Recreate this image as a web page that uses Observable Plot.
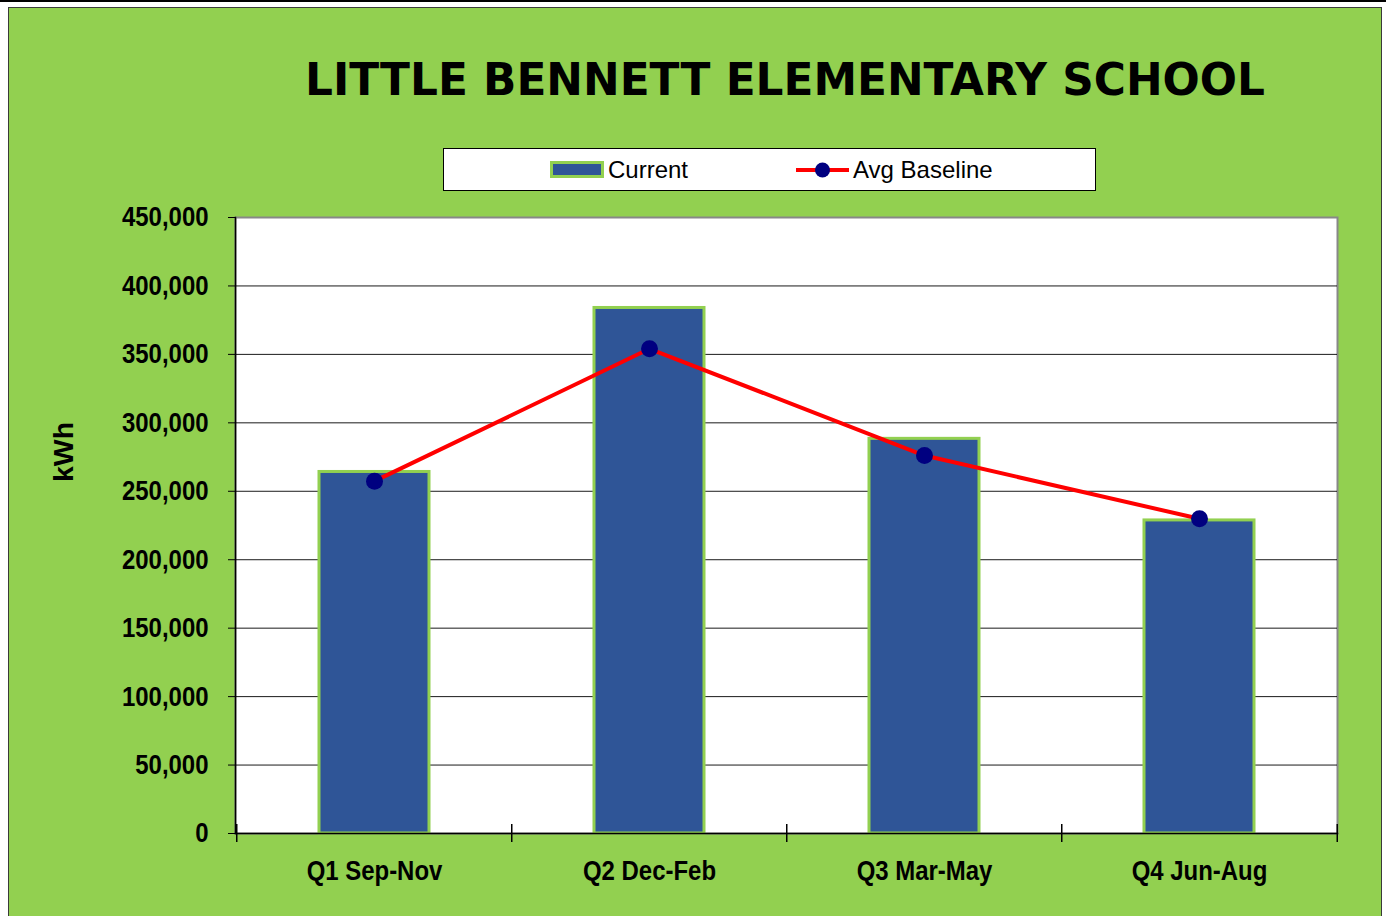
<!DOCTYPE html>
<html><head><meta charset="utf-8">
<script src="https://cdn.jsdelivr.net/npm/d3@7"></script>
<script src="https://cdn.jsdelivr.net/npm/@observablehq/plot@0.6"></script>
<style>
body{margin:0;background:#fff;width:1386px;height:916px;overflow:hidden;position:relative;font-family:"Liberation Sans",Arial,sans-serif}
#topline{position:absolute;left:0;top:0;width:1386px;height:2px;background:#000}
#panel{position:absolute;left:8px;top:7px;width:1374px;height:915px;background:#92D050;border:1px solid #3a3a3a;box-sizing:border-box}
#chart{position:absolute;left:0;top:0}
#legend{position:absolute;left:443px;top:148px;width:653px;height:43px;background:#fff;border:1px solid #000;box-sizing:border-box}
.lg{position:absolute;top:0;height:41px;line-height:41px;font-size:24px;color:#000;font-family:"Liberation Sans",Arial,sans-serif}
</style></head>
<body>
<div id="topline"></div>
<div id="panel"></div>
<div id="chart"></div>
<div id="legend">
  <div style="position:absolute;left:106px;top:12px;width:54px;height:17px;background:#2F5597;border:3px solid #92D050;box-sizing:border-box"></div>
  <div class="lg" style="left:164px">Current</div>
  <svg style="position:absolute;left:350px;top:10px" width="58" height="22"><line x1="2" y1="11" x2="55" y2="11" stroke="#FF0000" stroke-width="4"/><circle cx="28.5" cy="11" r="7.5" fill="#000080"/></svg>
  <div class="lg" style="left:409px">Avg Baseline</div>
</div>
<script>
const categories = ["Q1 Sep-Nov", "Q2 Dec-Feb", "Q3 Mar-May", "Q4 Jun-Aug"];
const current = [264100, 383900, 288300, 228700];
const avgBaseline = [257400, 354100, 276100, 229900];
const yTicks = [0, 50000, 100000, 150000, 200000, 250000, 300000, 350000, 400000, 450000];
const titleText = "LITTLE BENNETT ELEMENTARY SCHOOL";
const yLabel = "kWh";

const data = categories.map((q, i) => ({quarter: q, current: current[i], baseline: avgBaseline[i]}));
const narrow = "'Liberation Sans Narrow','Arial Narrow','Liberation Sans',Arial,sans-serif";
const step = (1386 - 235 - 49) / categories.length;

const chart = Plot.plot({
  width: 1386, height: 916,
  marginLeft: 235, marginRight: 49, marginTop: 217, marginBottom: 83,
  style: {background: "transparent", overflow: "visible", fontFamily: narrow, color: "#000"},
  x: {domain: categories, paddingInner: 0.6, paddingOuter: 0.3, axis: null},
  y: {domain: [0, 450000], axis: null},
  marks: [
    Plot.frame({fill: "white", stroke: "#888", strokeWidth: 2}),
    Plot.ruleY(yTicks.slice(1, -1), {stroke: "#000", strokeWidth: 1, strokeOpacity: 0.9}),
    Plot.barY(data, {x: "quarter", y: "current", fill: "#2F5597", stroke: "#92D050", strokeWidth: 3}),
    Plot.frame({anchor: "left", stroke: "#000", strokeWidth: 1.5}),
    Plot.frame({anchor: "bottom", stroke: "#000", strokeWidth: 1.5}),
    Plot.line(data, {x: "quarter", y: "baseline", stroke: "#FF0000", strokeWidth: 4}),
    Plot.dot(data, {x: "quarter", y: "baseline", r: 8.5, fill: "#000080", stroke: "none"}),
    Plot.ruleX(categories, {x: d => d, y1: 0, y2: 0, insetTop: -9, insetBottom: -9, dx: -step / 2, stroke: "#000", strokeWidth: 1.5}),
    Plot.ruleX(categories.slice(-1), {x: d => d, y1: 0, y2: 0, insetTop: -9, insetBottom: -9, dx: step / 2, stroke: "#000", strokeWidth: 1.5}),
    Plot.axisY({ticks: yTicks, tickSize: 7, tickPadding: 20, tickFormat: d3.format(","), fontSize: 28, fontWeight: "bold", label: null, stroke: "#000"}),
    Plot.axisX({tickSize: 0, tickPadding: 27, fontSize: 28, fontWeight: "bold", label: null})
  ]
});
document.getElementById("chart").appendChild(chart);
const svg = d3.select(chart);
// condense tick labels to mimic a narrow font
svg.selectAll("text").each(function() {
  const w = this.getComputedTextLength();
  if (w > 0) {
    this.setAttribute("textLength", w * 0.855);
    this.setAttribute("lengthAdjust", "spacingAndGlyphs");
  }
});
svg.append("text").attr("x", 785).attr("y", 95).attr("text-anchor", "middle")
  .attr("font-family", "'DejaVu Sans',sans-serif").attr("font-weight", "bold").attr("font-size", 44)
  .attr("textLength", 960).attr("lengthAdjust", "spacingAndGlyphs").attr("fill", "#000").text(titleText);
svg.append("text").attr("transform", "translate(73,452) rotate(-90)").attr("text-anchor", "middle")
  .attr("font-family", "'Liberation Sans',Arial,sans-serif").attr("font-weight", "bold").attr("font-size", 27)
  .attr("textLength", 60).attr("lengthAdjust", "spacingAndGlyphs")
  .attr("fill", "#000").text(yLabel);
</script>
</body></html>
